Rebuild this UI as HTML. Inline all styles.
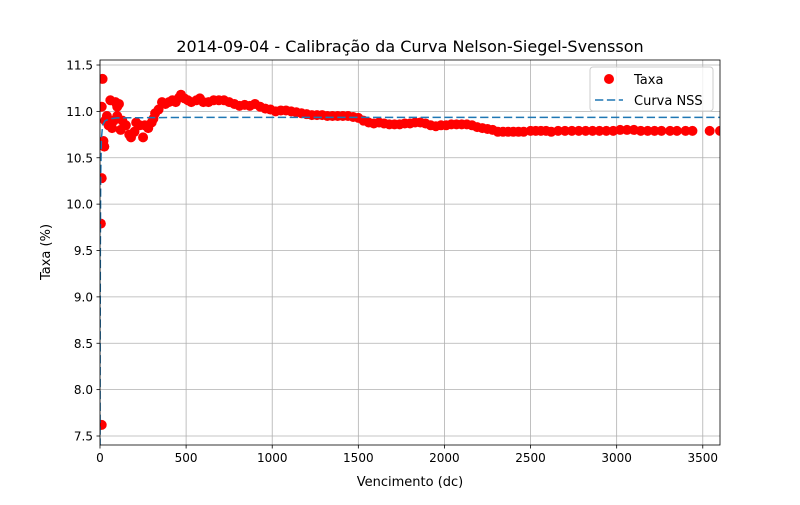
<!DOCTYPE html>
<html><head><meta charset="utf-8"><style>
body{margin:0;background:#fff;}
svg text{font-family:"DejaVu Sans","Liberation Sans",sans-serif;fill:#000;}
</style></head><body>
<svg id="c" width="800" height="500" xmlns="http://www.w3.org/2000/svg"></svg>
<script>
const maturities=[10,5,10,15,10,20,25,30,40,50,60,70,80,90,100,110,100,120,130,150,170,180,200,210,230,250,260,280,300,310,320,340,360,380,400,420,440,460,470,490,510,530,560,580,600,630,660,690,720,750,780,810,840,870,900,930,960,990,1020,1050,1080,1110,1140,1170,1200,1230,1260,1290,1320,1350,1380,1410,1440,1470,1500,1530,1560,1590,1620,1650,1680,1710,1740,1770,1800,1830,1860,1890,1920,1950,1980,2010,2040,2070,2100,2130,2160,2190,2220,2250,2280,2310,2340,2370,2400,2430,2460,2500,2530,2560,2590,2620,2660,2700,2740,2780,2820,2860,2900,2940,2980,3020,3060,3100,3140,3180,3220,3260,3310,3350,3400,3440,3540,3600];
const rates=[7.62,9.79,10.28,11.35,11.05,10.68,10.62,10.9,10.95,10.85,11.12,10.82,10.9,11.1,11.05,11.08,10.95,10.8,10.9,10.85,10.75,10.72,10.78,10.88,10.85,10.72,10.85,10.82,10.88,10.92,10.98,11.02,11.1,11.08,11.1,11.12,11.1,11.15,11.18,11.14,11.12,11.1,11.12,11.14,11.1,11.1,11.12,11.12,11.12,11.1,11.08,11.06,11.07,11.06,11.08,11.05,11.03,11.02,11.0,11.01,11.01,11.0,10.99,10.98,10.97,10.96,10.96,10.96,10.95,10.95,10.95,10.95,10.95,10.94,10.93,10.9,10.88,10.87,10.88,10.87,10.86,10.86,10.86,10.87,10.87,10.88,10.88,10.87,10.85,10.84,10.85,10.85,10.86,10.86,10.86,10.86,10.85,10.83,10.82,10.81,10.8,10.78,10.78,10.78,10.78,10.78,10.78,10.79,10.79,10.79,10.79,10.78,10.79,10.79,10.79,10.79,10.79,10.79,10.79,10.79,10.79,10.8,10.8,10.8,10.79,10.79,10.79,10.79,10.79,10.79,10.79,10.79,10.79,10.79];
const nssX=[0,0.5,1,2,4,8,15,30,60,100,500,1000,2000,3600];
const nssY=[7.0,7.45,8.5,9.5,10.3,10.7,10.85,10.9,10.92,10.93,10.935,10.935,10.935,10.935];
const xTicks=[0,500,1000,1500,2000,2500,3000,3500];
const yTicks=[7.5,8.0,8.5,9.0,9.5,10.0,10.5,11.0,11.5];
const L=100,R=720,T=60,B=445,X0=0,X1=3600,Y0=7.403,Y1=11.554;
const sx=v=>L+(v-X0)/(X1-X0)*(R-L), sy=v=>B-(v-Y0)/(Y1-Y0)*(B-T);
const svg=document.getElementById('c');const NS='http://www.w3.org/2000/svg';
function mk(t,a,p){const e=document.createElementNS(NS,t);for(const k in a)e.setAttribute(k,a[k]);(p||svg).appendChild(e);return e;}
mk('rect',{x:0,y:0,width:800,height:500,fill:'#fff'});
const clip=mk('clipPath',{id:'pc'});mk('rect',{x:L,y:T,width:R-L,height:B-T},clip);
xTicks.forEach(v=>{const g=mk('line',{x1:sx(v),x2:sx(v),y1:T,y2:B,stroke:'#b0b0b0','stroke-width':0.8});

mk('line',{x1:sx(v),x2:sx(v),y1:B,y2:B+3.5,stroke:'#000','stroke-width':0.8});
const t=mk('text',{x:sx(v),y:B+17,'font-size':12,'text-anchor':'middle'});t.textContent=v;
});
yTicks.forEach(v=>{const g=mk('line',{x1:L,x2:R,y1:sy(v),y2:sy(v),stroke:'#b0b0b0','stroke-width':0.8});

mk('line',{x1:L-3.5,x2:L,y1:sy(v),y2:sy(v),stroke:'#000','stroke-width':0.8});
const t=mk('text',{x:L-7,y:sy(v)+4.5,'font-size':12,'text-anchor':'end'});t.textContent=v.toFixed(1);
});
const pg=mk('g',{'clip-path':'url(#pc)'});
maturities.forEach((m,i)=>{const c=mk('circle',{cx:sx(m),cy:sy(rates[i]),r:5,fill:'#ff0000'},pg);
});
const line=mk('polyline',{points:nssX.map((x,i)=>sx(x)+','+sy(nssY[i])).join(' '),fill:'none',stroke:'#1f77b4','stroke-width':1.5,'stroke-dasharray':'8.3,3.6'},pg);

mk('rect',{x:L,y:T,width:R-L,height:B-T,fill:'none',stroke:'#000','stroke-width':0.8});
const ti=mk('text',{x:410,y:52,'font-size':16,'text-anchor':'middle'});ti.textContent='2014-09-04 - Calibração da Curva Nelson-Siegel-Svensson';

const xl=mk('text',{x:410,y:486,'font-size':13,'text-anchor':'middle'});xl.textContent='Vencimento (dc)';

const yl=mk('text',{x:50,y:252,'font-size':13,'text-anchor':'middle',transform:'rotate(-90 50 252)'});yl.textContent='Taxa (%)';

const lg=mk('g',{});
mk('rect',{x:590,y:67,width:123,height:44,rx:3,fill:'#fff','fill-opacity':0.8,stroke:'#ccc','stroke-width':1},lg);
const le1=mk('circle',{cx:609,cy:79,r:5,fill:'#ff0000'},lg);
const lt1=mk('text',{x:634,y:84,'font-size':13},lg);lt1.textContent='Taxa';
const le2=mk('line',{x1:595,x2:623,y1:100,y2:100,stroke:'#1f77b4','stroke-width':1.5,'stroke-dasharray':'8.3,3.6'},lg);
const lt2=mk('text',{x:634,y:105,'font-size':13},lg);lt2.textContent='Curva NSS';
</script></body></html>
